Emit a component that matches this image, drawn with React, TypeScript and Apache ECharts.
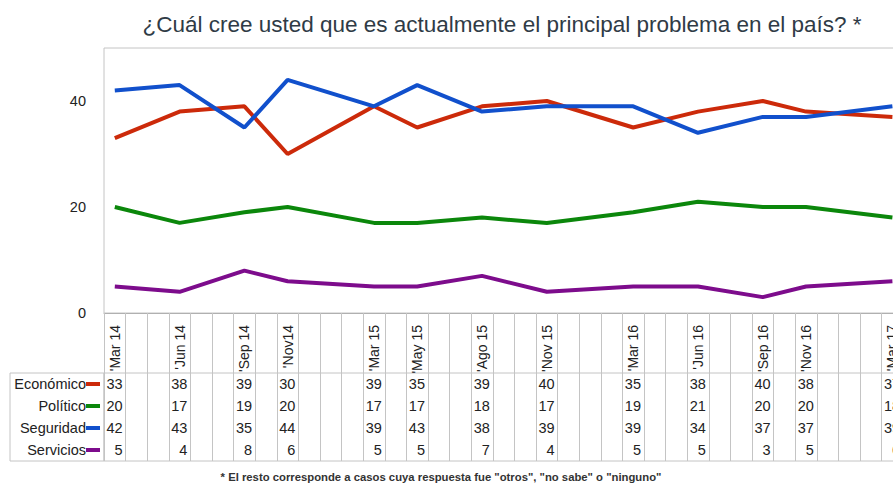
import React, { useEffect, useRef } from 'react';
import * as echarts from 'echarts';

const categories = [
  "'Mar 14", '', '', "'Jun 14", '', '', "'Sep 14", '', "'Nov14", '', '', '',
  "'Mar 15", '', "'May 15", '', '', "'Ago 15", '', '', "'Nov 15", '', '', '',
  "'Mar 16", '', '', "'Jun 16", '', '', "'Sep 16", '', "'Nov 16", '', '', '', "'Mar 17",
];
const seriesNames = ['Económico', 'Político', 'Seguridad', 'Servicios'];
const economico = [33, 38, 39, 30, 39, 35, 39, 40, 35, 38, 40, 38, 37];
const politico = [20, 17, 19, 20, 17, 17, 18, 17, 19, 21, 20, 20, 18];
const seguridad = [42, 43, 35, 44, 39, 43, 38, 39, 39, 34, 37, 37, 39];
const servicios = [5, 4, 8, 6, 5, 5, 7, 4, 5, 5, 3, 5, 6];
const yMin = 0;
const yMax = 50;
const yInterval = 20;
const titleText = '¿Cuál cree usted que es actualmente el principal problema en el país? *';
const footText = '* El resto corresponde a casos cuya respuesta fue "otros", "no sabe" o "ninguno"';

const colors = ['#cc2a0a', '#1150cc', '#0b870b', '#7d0c8c'];
const lineColors = [colors[0], colors[2], colors[1], colors[3]];
const FONT = "'Liberation Sans', Arial, sans-serif";

export default function App() {
  const ref = useRef<HTMLDivElement>(null);
  useEffect(() => {
    const chart = echarts.init(ref.current!, null, { renderer: 'svg' });
    const allValues = [economico, politico, seguridad, servicios];
    const filledCols: number[] = [];
    categories.forEach((c, i) => { if (c !== '') filledCols.push(i); });
    const toColumns = (vals: number[]) => {
      const arr: (number | null)[] = categories.map(() => null);
      vals.forEach((v, k) => { arr[filledCols[k]] = v; });
      return arr;
    };
    const tableData: number[][] = [];
    allValues.forEach((vals, r) => {
      vals.forEach((v, k) => tableData.push([filledCols[k], r, v]));
    });
    const rich: any = {};
    lineColors.forEach((c, i) => {
      rich['m' + i] = { width: 14, height: 4, backgroundColor: c };
    });
    const colW = 21.6;
    const gridW = colW * categories.length;

    const option: any = {
      animation: false,
      backgroundColor: '#fff',
      title: [{
        text: titleText,
        left: 'center',
        top: 8,
        textStyle: { fontFamily: FONT, fontSize: 22.5, fontWeight: 'normal', color: '#2f3b46' },
      }],
      grid: [
        { left: 104, top: 48, width: gridW, height: 265, show: true, borderColor: '#c4c4c4', borderWidth: 1 },
        { left: 104, top: 373, width: gridW, height: 88, show: true, borderColor: '#c4c4c4', borderWidth: 1 },
      ],
      xAxis: [
        {
          type: 'category', gridIndex: 0, data: categories, boundaryGap: true,
          axisLine: { show: true, lineStyle: { color: '#b0b0b0' } },
          axisTick: { show: true, interval: 0, length: 60, lineStyle: { color: '#c4c4c4' } },
          axisLabel: { interval: 0, rotate: 90, margin: 12, fontFamily: FONT, fontSize: 14, color: '#222' },
          splitLine: { show: false },
        },
        {
          type: 'category', gridIndex: 1, data: categories, boundaryGap: true,
          axisLine: { show: false }, axisTick: { show: false }, axisLabel: { show: false },
          splitLine: { show: true, interval: 0, lineStyle: { color: '#c4c4c4' } },
        },
      ],
      yAxis: [
        {
          type: 'value', gridIndex: 0, min: yMin, max: yMax, interval: yInterval,
          axisLine: { show: false }, axisTick: { show: false }, splitLine: { show: false },
          axisLabel: { margin: 18, showMaxLabel: false, fontFamily: FONT, fontSize: 14.5, color: '#222' },
        },
        {
          type: 'category', gridIndex: 1, data: seriesNames, inverse: true,
          axisLine: { show: false }, axisTick: { show: false }, splitLine: { show: false },
          axisLabel: {
            margin: 4, fontFamily: FONT, fontSize: 14.5, color: '#222',
            formatter: (v: string, i: number) => `${v}{m${i}|}`,
            rich,
          },
        },
      ],
      graphic: [
        { type: 'rect', shape: { x: 10, y: 373, width: 94, height: 88 }, style: { fill: 'none', stroke: '#c4c4c4', lineWidth: 1 }, silent: true },
        {
          type: 'text', x: 441, y: 477,
          style: { text: footText, align: 'center', verticalAlign: 'middle', fontFamily: FONT, fontSize: 11.3, fontWeight: 'bold', fill: '#333' },
        },
      ],
      series: [
        ...allValues.map((vals, i) => ({
          type: 'line', name: seriesNames[i], xAxisIndex: 0, yAxisIndex: 0,
          data: toColumns(vals), connectNulls: true, showSymbol: false, symbol: 'none',
          lineStyle: { width: 4, color: lineColors[i] }, itemStyle: { color: lineColors[i] },
        })),
        {
          type: 'custom', xAxisIndex: 1, yAxisIndex: 1, data: tableData,
          renderItem: (_p: any, api: any) => {
            const pt = api.coord([api.value(0), api.value(1)]);
            const bw = api.size([1, 0])[0];
            return {
              type: 'text', x: pt[0] + bw / 2 - 3, y: pt[1],
              style: { text: String(api.value(2)), align: 'right', verticalAlign: 'middle', fontFamily: FONT, fontSize: 14.5, fill: '#222' },
            };
          },
        },
      ],
    };
    chart.setOption(option);
    return () => chart.dispose();
  }, []);
  return (
    <div style={{ position: 'fixed', left: 0, top: 0, width: 893, height: 487, overflow: 'hidden', background: '#fff' }}>
      <div ref={ref} style={{ width: 1004, height: 487 }} />
    </div>
  );
}
